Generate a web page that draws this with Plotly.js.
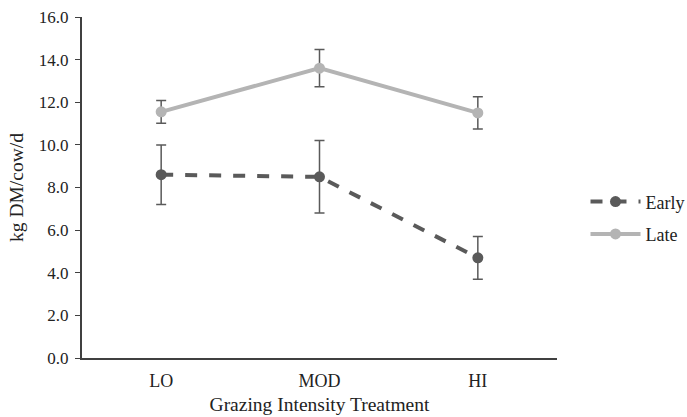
<!DOCTYPE html>
<html>
<head>
<meta charset="utf-8">
<script src="https://cdn.plot.ly/plotly-3.0.1.min.js"></script>
<style>html,body{margin:0;padding:0;background:#fff;}#chart{width:687px;height:417px;}</style>
</head>
<body>
<div id="chart"></div>
<script>
var categories = ["LO", "MOD", "HI"];
var earlyValues = [8.6, 8.5, 4.7];
var earlyErrors = [1.4, 1.7, 1.0];
var lateValues = [11.55, 13.6, 11.5];
var lateErrors = [0.53, 0.87, 0.76];

var traces = [
  {
    x: categories, y: earlyValues, name: "Early", type: "scatter", mode: "lines+markers",
    legendgroup: "g1",
    line: {color: "#5a5a5a", width: 4, dash: "dash"},
    marker: {color: "#5a5a5a", size: 11},
    error_y: {type: "data", array: earlyErrors, visible: true, color: "#5a5a5a", thickness: 1.5, width: 5}
  },
  {
    x: categories, y: lateValues, name: "Late", type: "scatter", mode: "lines+markers",
    legendgroup: "g2",
    line: {color: "#b4b4b4", width: 4},
    marker: {color: "#b4b4b4", size: 11},
    error_y: {type: "data", array: lateErrors, visible: true, color: "#5a5a5a", thickness: 1.5, width: 5}
  }
];

var layout = {
  width: 687, height: 417,
  margin: {l: 82, r: 130, t: 17, b: 59, autoexpand: false},
  paper_bgcolor: "#fff", plot_bgcolor: "#fff",
  font: {family: "Liberation Serif, Times New Roman, serif", size: 18, color: "#222"},
  showlegend: true,
  legend: {x: 1.06, y: 0.411, xanchor: "left", yanchor: "middle", font: {size: 18, color: "#222"},
           traceorder: "grouped", tracegroupgap: 6, itemwidth: 50},
  xaxis: {
    type: "category", range: [-0.5, 2.5], showline: true, linecolor: "#404040", linewidth: 2,
    ticks: "", showgrid: false, zeroline: false, ticklabelstandoff: 5,
    tickfont: {size: 18},
    title: {text: "Grazing Intensity Treatment", font: {size: 19.5}, standoff: 8}
  },
  yaxis: {
    range: [0, 16], dtick: 2, tickformat: ".1f", showline: true, linecolor: "#404040", linewidth: 2,
    ticks: "outside", ticklen: 5, tickcolor: "#404040", showgrid: false, zeroline: false,
    ticklabelstandoff: 3,
    tickfont: {size: 17},
    title: {text: "kg DM/cow/d", font: {size: 19.5}, standoff: 10}
  }
};

Plotly.newPlot("chart", traces, layout, {displayModeBar: false, staticPlot: true});
</script>
</body>
</html>
